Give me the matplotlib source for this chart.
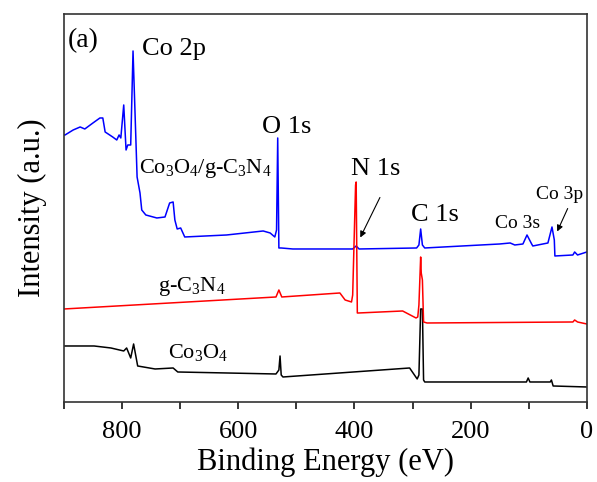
import matplotlib.pyplot as plt

plt.rcParams['font.family'] = ['Liberation Serif', 'DejaVu Serif']
plt.rcParams['mathtext.fontset'] = 'custom'
plt.rcParams['mathtext.rm'] = 'Liberation Serif'
plt.rcParams['mathtext.default'] = 'rm'

# Co3O4/g-C3N4 survey (binding energy eV, intensity a.u.)
hybrid_E = [900, 898, 884, 872, 864, 850, 838, 833, 829, 816, 809, 805, 802, 797,
            793, 790, 785, 781, 774, 769, 766, 759, 740, 726, 718, 712, 709, 705,
            699, 692, 620, 557, 545, 537, 534, 532, 530, 526, 506, 403, 397, 392,
            293, 289, 286, 283, 279, 150, 132, 124, 110, 103, 95, 93, 67, 60, 56,
            55, 24, 21, 16, 0]
hybrid_I = [270, 270, 275, 278, 276, 282, 287, 287, 273, 268, 265, 270, 267, 300,
            255, 260, 260, 354, 228, 212, 195, 190, 187, 188, 202, 203, 185, 176,
            177, 168, 170, 174, 172, 168, 175, 267, 157, 157, 156, 156, 159, 156,
            157, 160, 176, 160, 157, 161, 162, 160, 161, 170, 161, 159, 162, 178,
            165, 149, 150, 153, 150, 153]

# g-C3N4 survey
gcn_E = [900, 535, 530, 525, 425, 416, 405, 403, 398, 397, 395, 393, 317,
         294, 291, 289, 286, 285, 283, 281, 275, 24, 21, 16, 0]
gcn_I = [96, 108, 115, 108, 112, 105, 103, 110, 220, 223, 92, 92, 94,
         87, 88, 100, 148, 132, 125, 83, 82, 83, 85, 83, 81]

# Co3O4 survey
co_E = [900, 848, 819, 797, 792, 785, 780, 773, 743, 712, 704, 535, 530, 528,
        526, 523, 305, 292, 289, 286, 283, 281, 279, 151, 104, 101, 98, 63, 61,
        58, 0]
co_I = [59, 59, 57, 54, 57, 47, 61, 39, 36, 37, 33, 31, 35, 49,
        30, 28, 37, 26, 30, 96, 96, 25, 23, 23, 23, 27, 23, 23, 25,
        19, 18]

fig = plt.figure(figsize=(5.97, 4.82), dpi=100)
ax = fig.add_axes([0.107, 0.166, 0.876, 0.805])

ax.plot(hybrid_E, hybrid_I, color='#0000FF', lw=1.1)
ax.plot(co_E, co_I, color='black', lw=1.1)
ax.plot(gcn_E, gcn_I, color='#FF0000', lw=1.1)

ax.set_xlim(900, 0)
ax.set_ylim(3, 391)
ax.set_xticks([800, 600, 400, 200, 0])
ax.set_xticks([900, 700, 500, 300, 100], minor=True)
ax.set_yticks([])
ax.tick_params(axis='x', which='both', direction='out', length=5, width=1.1,
               labelsize=19, pad=9, top=False)
for s in ax.spines.values():
    s.set_linewidth(1.2)
    s.set_color('#333333')

ax.set_xlabel('Binding Energy (eV)', fontsize=22, labelpad=3)
ax.set_ylabel('Intensity (a.u.)', fontsize=22, labelpad=12)

ax.text(0.008, 0.964, '(a)', transform=ax.transAxes, fontsize=20, va='top')
ax.text(766, 350, 'Co 2p', fontsize=19)
ax.text(559, 272, 'O 1s', fontsize=19)
ax.text(406, 230, 'N 1s', fontsize=19)
ax.text(303, 184, 'C 1s', fontsize=19)
ax.text(158, 177, 'Co 3s', fontsize=14)
ax.text(88, 206, 'Co 3p', fontsize=14)
ax.text(771, 232, r'Co$_3$O$_4$/g-C$_3$N$_4$', fontsize=16)
ax.text(738, 114, r'g-C$_3$N$_4$', fontsize=16)
ax.text(721, 47, r'Co$_3$O$_4$', fontsize=16)

arrow = dict(arrowstyle='-|>', color='black', lw=0.8, mutation_scale=9)
ax.annotate('', xy=(392, 165), xytext=(354, 210), arrowprops=arrow)
ax.annotate('', xy=(53, 171), xytext=(31, 199), arrowprops=arrow)

fig.savefig('out.png', dpi=100)
